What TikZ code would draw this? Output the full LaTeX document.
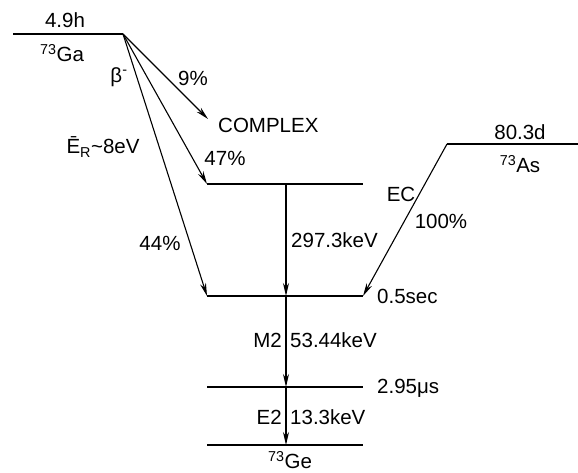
\documentclass[tikz,border=0pt]{standalone}
\usepackage{fontspec}
\setmainfont{Liberation Sans}
\usetikzlibrary{arrows.meta}

\begin{document}
\begin{tikzpicture}[
        x=1pt, y=-1pt,
        level/.style={
            line width=2.2pt
        },
        arrow/.style={
            -{Stealth[length=13pt,width=6pt]},
            line width=1.1pt
        },
        label/.style={
            font=\fontsize{20.5}{24}\selectfont,
            inner sep=1pt
        }
    ]
        \useasboundingbox (0,0) rectangle (578,473);

        % levels
        \coordinate (gaL) at (13,34);
        \coordinate (gaR) at (123,34);
        \coordinate (asL) at (447,144);
        \coordinate (asR) at (578,144);
        \coordinate (upL) at (207,184);
        \coordinate (upR) at (363,184);
        \coordinate (isoL) at (207,296);
        \coordinate (isoR) at (363,296);
        \coordinate (midL) at (207,387);
        \coordinate (midR) at (363,387);
        \coordinate (geL) at (207,445);
        \coordinate (geR) at (363,445);
        \coordinate (cplx) at (208,119);

        \draw[level] (gaL) -- (gaR);
        \draw[level] (asL) -- (asR);
        \draw[level] (upL) -- (upR);
        \draw[level] (isoL) -- (isoR);
        \draw[level] (midL) -- (midR);
        \draw[level] (geL) -- (geR);

        % gamma line positions
        \coordinate (upG) at (286,184);
        \coordinate (isoG) at (286,296);
        \coordinate (midG) at (286,387);
        \coordinate (geG) at (286,445);

        \draw[arrow] (gaR) -- (cplx);
        \draw[arrow] (gaR) -- (upL);
        \draw[arrow] (gaR) -- (isoL);
        \draw[arrow] (asL) -- (isoR);
        \draw[arrow] (upG) -- (isoG);
        \draw[arrow] (isoG) -- (midG);
        \draw[arrow] (midG) -- (geG);

        % texts
        \node[label] (gaT) at (65,20) {4.9h};
        \node[label] (gaN) at (62,53) {\textsuperscript{73}Ga};
        \node[label] (beta) at (119,77) {β\textsuperscript{-}};
        \node[label] (pc9) at (193,78) {9\%};
        \node[label, anchor=west] (complex) at (217,125) {COMPLEX};
        \node[label] (recoil) at (103,147) {Ē\textsubscript{R}\textasciitilde8eV};
        \node[label] (pc47) at (225,158) {47\%};
        \node[label] (pc44) at (160,243) {44\%};
        \node[label, anchor=west] (e297) at (290,240) {297.3keV};
        \node[label] (asT) at (520,132) {80.3d};
        \node[label] (asN) at (520,164) {\textsuperscript{73}As};
        \node[label] (ec) at (401,194) {EC};
        \node[label] (pc100) at (441,221) {100\%};
        \node[label, anchor=west] (t05) at (376,296) {0.5sec};
        \node[label, anchor=east] (m2) at (283,340) {M2};
        \node[label, anchor=west] (e53) at (289,340) {53.44keV};
        \node[label, anchor=west] (t295) at (376,388) {2.95μs};
        \node[label, anchor=east] (e2) at (283,417) {E2};
        \node[label, anchor=west] (e13) at (289,417) {13.3keV};
        \node[label] (geN) at (290,460) {\textsuperscript{73}Ge};

    \end{tikzpicture}
\end{document}
